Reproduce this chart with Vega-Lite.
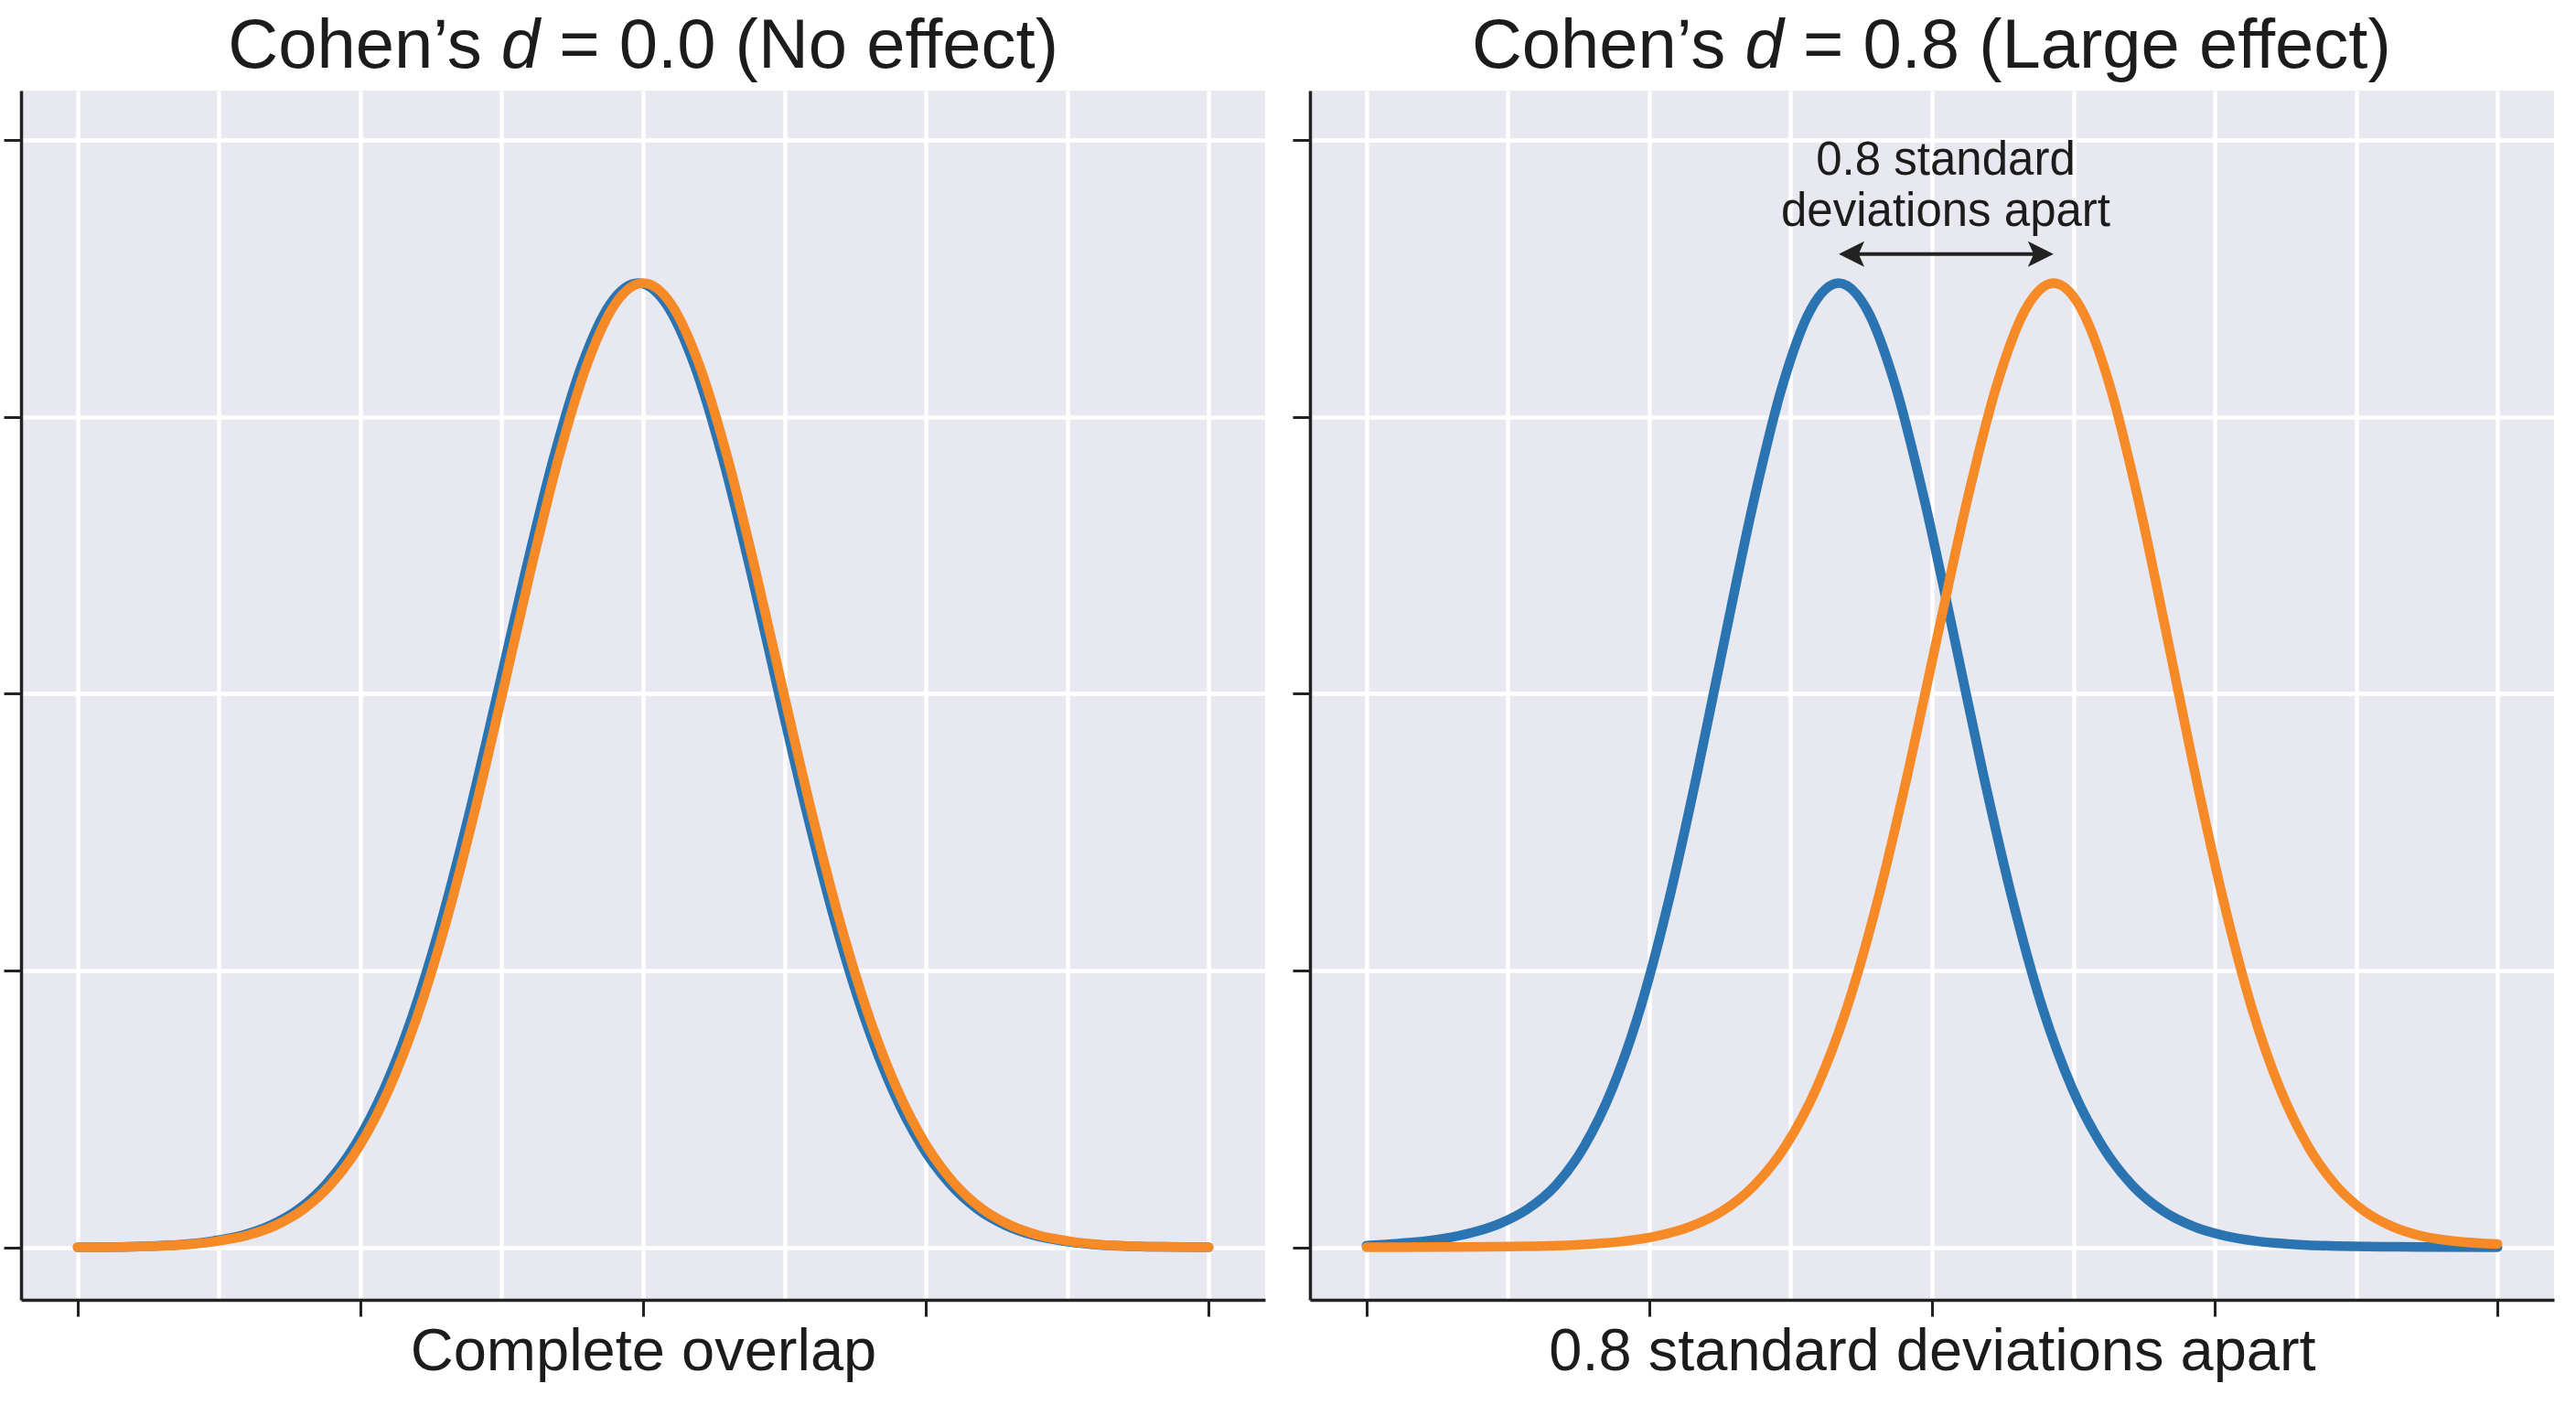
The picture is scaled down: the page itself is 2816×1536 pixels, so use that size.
{
  "$schema": "https://vega.github.io/schema/vega-lite/v6.json",
  "background": "white",
  "padding": {"left": 2, "top": 12, "right": 5, "bottom": 5},
  "config": {
    "view": {"fill": "#e8e8f0", "stroke": null},
    "font": "Liberation Sans",
    "axis": {
      "labels": false, "grid": true, "gridColor": "#ffffff", "gridWidth": 4.5,
      "domainColor": "#222222", "domainWidth": 3.5, "tickColor": "#222222", "tickWidth": 3,
      "titleFont": "Liberation Sans", "titleFontWeight": "normal", "titleColor": "#1c1c1c"
    }
  },
  "datasets": {
    "curves": [
      {"p":"L","s":"A","x":-4,"y":0},{"p":"L","s":"A","x":-3.635,"y":0.0002},{"p":"L","s":"A","x":-3.435,"y":0.0005},{"p":"L","s":"A","x":-3.235,"y":0.0011},{"p":"L","s":"A","x":-3.035,"y":0.0023},{"p":"L","s":"A","x":-2.835,"y":0.0043},{"p":"L","s":"A","x":-2.635,"y":0.0079},{"p":"L","s":"A","x":-2.435,"y":0.0138},{"p":"L","s":"A","x":-2.235,"y":0.0232},{"p":"L","s":"A","x":-2.035,"y":0.0371},{"p":"L","s":"A","x":-1.835,"y":0.0568},{"p":"L","s":"A","x":-1.635,"y":0.0831},{"p":"L","s":"A","x":-1.435,"y":0.1163},{"p":"L","s":"A","x":-1.235,"y":0.1556},{"p":"L","s":"A","x":-1.035,"y":0.199},{"p":"L","s":"A","x":-0.835,"y":0.2435},{"p":"L","s":"A","x":-0.635,"y":0.2848},{"p":"L","s":"A","x":-0.435,"y":0.3185},{"p":"L","s":"A","x":-0.235,"y":0.3407},{"p":"L","s":"A","x":-0.035,"y":0.3484},{"p":"L","s":"A","x":0.165,"y":0.3407},{"p":"L","s":"A","x":0.365,"y":0.3185},{"p":"L","s":"A","x":0.565,"y":0.2848},{"p":"L","s":"A","x":0.765,"y":0.2435},{"p":"L","s":"A","x":0.965,"y":0.199},{"p":"L","s":"A","x":1.165,"y":0.1556},{"p":"L","s":"A","x":1.365,"y":0.1163},{"p":"L","s":"A","x":1.565,"y":0.0831},{"p":"L","s":"A","x":1.765,"y":0.0568},{"p":"L","s":"A","x":1.965,"y":0.0371},{"p":"L","s":"A","x":2.165,"y":0.0232},{"p":"L","s":"A","x":2.365,"y":0.0138},{"p":"L","s":"A","x":2.565,"y":0.0079},{"p":"L","s":"A","x":2.765,"y":0.0043},{"p":"L","s":"A","x":2.965,"y":0.0023},{"p":"L","s":"A","x":3.165,"y":0.0011},{"p":"L","s":"A","x":3.365,"y":0.0005},{"p":"L","s":"A","x":3.565,"y":0.0002},{"p":"L","s":"A","x":4,"y":0},
      {"p":"L","s":"B","x":-4,"y":0},{"p":"L","s":"B","x":-3.6,"y":0.0002},{"p":"L","s":"B","x":-3.4,"y":0.0005},{"p":"L","s":"B","x":-3.2,"y":0.0011},{"p":"L","s":"B","x":-3,"y":0.0023},{"p":"L","s":"B","x":-2.8,"y":0.0043},{"p":"L","s":"B","x":-2.6,"y":0.0079},{"p":"L","s":"B","x":-2.4,"y":0.0138},{"p":"L","s":"B","x":-2.2,"y":0.0232},{"p":"L","s":"B","x":-2,"y":0.0371},{"p":"L","s":"B","x":-1.8,"y":0.0568},{"p":"L","s":"B","x":-1.6,"y":0.0831},{"p":"L","s":"B","x":-1.4,"y":0.1163},{"p":"L","s":"B","x":-1.2,"y":0.1556},{"p":"L","s":"B","x":-1,"y":0.199},{"p":"L","s":"B","x":-0.8,"y":0.2435},{"p":"L","s":"B","x":-0.6,"y":0.2848},{"p":"L","s":"B","x":-0.4,"y":0.3185},{"p":"L","s":"B","x":-0.2,"y":0.3407},{"p":"L","s":"B","x":0,"y":0.3484},{"p":"L","s":"B","x":0.2,"y":0.3407},{"p":"L","s":"B","x":0.4,"y":0.3185},{"p":"L","s":"B","x":0.6,"y":0.2848},{"p":"L","s":"B","x":0.8,"y":0.2435},{"p":"L","s":"B","x":1,"y":0.199},{"p":"L","s":"B","x":1.2,"y":0.1556},{"p":"L","s":"B","x":1.4,"y":0.1163},{"p":"L","s":"B","x":1.6,"y":0.0831},{"p":"L","s":"B","x":1.8,"y":0.0568},{"p":"L","s":"B","x":2,"y":0.0371},{"p":"L","s":"B","x":2.2,"y":0.0232},{"p":"L","s":"B","x":2.4,"y":0.0138},{"p":"L","s":"B","x":2.6,"y":0.0079},{"p":"L","s":"B","x":2.8,"y":0.0043},{"p":"L","s":"B","x":3,"y":0.0023},{"p":"L","s":"B","x":3.2,"y":0.0011},{"p":"L","s":"B","x":3.4,"y":0.0005},{"p":"L","s":"B","x":3.6,"y":0.0002},{"p":"L","s":"B","x":4,"y":0},
      {"p":"R","s":"A","x":-4,"y":0.0006},{"p":"R","s":"A","x":-3.86,"y":0.001},{"p":"R","s":"A","x":-3.66,"y":0.0018},{"p":"R","s":"A","x":-3.46,"y":0.0031},{"p":"R","s":"A","x":-3.26,"y":0.0052},{"p":"R","s":"A","x":-3.06,"y":0.0085},{"p":"R","s":"A","x":-2.86,"y":0.0138},{"p":"R","s":"A","x":-2.66,"y":0.0224},{"p":"R","s":"A","x":-2.46,"y":0.0365},{"p":"R","s":"A","x":-2.26,"y":0.0575},{"p":"R","s":"A","x":-2.06,"y":0.0869},{"p":"R","s":"A","x":-1.86,"y":0.1256},{"p":"R","s":"A","x":-1.66,"y":0.1715},{"p":"R","s":"A","x":-1.46,"y":0.2214},{"p":"R","s":"A","x":-1.26,"y":0.2699},{"p":"R","s":"A","x":-1.06,"y":0.311},{"p":"R","s":"A","x":-0.86,"y":0.3387},{"p":"R","s":"A","x":-0.66,"y":0.3484},{"p":"R","s":"A","x":-0.459,"y":0.3387},{"p":"R","s":"A","x":-0.257,"y":0.311},{"p":"R","s":"A","x":-0.053,"y":0.2699},{"p":"R","s":"A","x":0.153,"y":0.2214},{"p":"R","s":"A","x":0.36,"y":0.1715},{"p":"R","s":"A","x":0.569,"y":0.1256},{"p":"R","s":"A","x":0.779,"y":0.0869},{"p":"R","s":"A","x":0.991,"y":0.0575},{"p":"R","s":"A","x":1.205,"y":0.0365},{"p":"R","s":"A","x":1.42,"y":0.0222},{"p":"R","s":"A","x":1.637,"y":0.013},{"p":"R","s":"A","x":1.855,"y":0.0074},{"p":"R","s":"A","x":2.075,"y":0.0041},{"p":"R","s":"A","x":2.297,"y":0.0022},{"p":"R","s":"A","x":2.52,"y":0.0012},{"p":"R","s":"A","x":2.745,"y":0.0006},{"p":"R","s":"A","x":2.971,"y":0.0003},{"p":"R","s":"A","x":3.199,"y":0.0002},{"p":"R","s":"A","x":3.429,"y":0.0001},{"p":"R","s":"A","x":4,"y":0},
      {"p":"R","s":"B","x":-4,"y":0},{"p":"R","s":"B","x":-3.373,"y":0.0001},{"p":"R","s":"B","x":-3.129,"y":0.0002},{"p":"R","s":"B","x":-2.887,"y":0.0003},{"p":"R","s":"B","x":-2.647,"y":0.0006},{"p":"R","s":"B","x":-2.41,"y":0.0012},{"p":"R","s":"B","x":-2.175,"y":0.0022},{"p":"R","s":"B","x":-1.943,"y":0.0041},{"p":"R","s":"B","x":-1.713,"y":0.0074},{"p":"R","s":"B","x":-1.485,"y":0.013},{"p":"R","s":"B","x":-1.26,"y":0.0222},{"p":"R","s":"B","x":-1.037,"y":0.0365},{"p":"R","s":"B","x":-0.817,"y":0.0575},{"p":"R","s":"B","x":-0.599,"y":0.0869},{"p":"R","s":"B","x":-0.383,"y":0.1256},{"p":"R","s":"B","x":-0.17,"y":0.1715},{"p":"R","s":"B","x":0.041,"y":0.2214},{"p":"R","s":"B","x":0.249,"y":0.2699},{"p":"R","s":"B","x":0.455,"y":0.311},{"p":"R","s":"B","x":0.659,"y":0.3387},{"p":"R","s":"B","x":0.86,"y":0.3484},{"p":"R","s":"B","x":1.06,"y":0.3387},{"p":"R","s":"B","x":1.26,"y":0.311},{"p":"R","s":"B","x":1.46,"y":0.2699},{"p":"R","s":"B","x":1.66,"y":0.2214},{"p":"R","s":"B","x":1.86,"y":0.1715},{"p":"R","s":"B","x":2.06,"y":0.1256},{"p":"R","s":"B","x":2.26,"y":0.0869},{"p":"R","s":"B","x":2.46,"y":0.0575},{"p":"R","s":"B","x":2.66,"y":0.0365},{"p":"R","s":"B","x":2.86,"y":0.0222},{"p":"R","s":"B","x":3.06,"y":0.013},{"p":"R","s":"B","x":3.26,"y":0.0074},{"p":"R","s":"B","x":3.46,"y":0.0041},{"p":"R","s":"B","x":3.66,"y":0.0024},{"p":"R","s":"B","x":3.86,"y":0.0015},{"p":"R","s":"B","x":4,"y":0.0012}
    ],
    "titles": [
      {"p":"L","part":"pre","x":-1.14,"y":0.4263,"t":"Cohen’s"},
      {"p":"L","part":"d","x":-0.867,"y":0.4263,"t":"d"},
      {"p":"L","part":"post","x":-0.593,"y":0.4263,"t":"= 0.0 (No effect)"},
      {"p":"R","part":"pre","x":-1.46,"y":0.4263,"t":"Cohen’s"},
      {"p":"R","part":"d","x":-1.187,"y":0.4263,"t":"d"},
      {"p":"R","part":"post","x":-0.913,"y":0.4263,"t":"= 0.8 (Large effect)"}
    ],
    "notes": [{"x":0.097,"y":0.3876,"t":"0.8 standard\ndeviations apart"}],
    "arrow": [{"x":-0.6,"x2":0.8,"y":0.3589}],
    "heads": [{"x":-0.569,"y":0.3589,"dir":"left"},{"x":0.769,"y":0.3589,"dir":"right"}]
  },
  "spacing": 28,
  "hconcat": [
    {
      "width": 1360, "height": 1322,
      "encoding": {
        "x": {"field": "x", "type": "quantitative", "scale": {"domain": [-4.4, 4.4], "nice": false, "zero": false},
              "axis": {"values": [-4,-3,-2,-1,0,1,2,3,4], "tickSize": 18,
                       "tickOpacity": {"condition": {"test": "abs(datum.value) % 2 === 1", "value": 0}, "value": 1},
                       "title": "Complete overlap", "titleFontSize": 65, "titleBaseline": "alphabetic", "titlePadding": 57}},
        "y": {"field": "y", "type": "quantitative", "scale": {"domain": [-0.019, 0.418], "nice": false, "zero": false},
              "axis": {"values": [0, 0.1, 0.2, 0.3, 0.4], "tickSize": 19, "title": null}}
      },
      "layer": [
        {"data": {"name": "curves"}, "transform": [{"filter": "datum.p === 'L' && datum.s === 'A'"}],
         "mark": {"type": "line", "color": "#2b74b2", "strokeWidth": 10.5, "interpolate": "monotone", "strokeCap": "round"}},
        {"data": {"name": "curves"}, "transform": [{"filter": "datum.p === 'L' && datum.s === 'B'"}],
         "mark": {"type": "line", "color": "#f58a27", "strokeWidth": 10.5, "interpolate": "monotone", "strokeCap": "round"}},
        {"data": {"name": "titles"}, "transform": [{"filter": "datum.p === 'L' && datum.part === 'pre'"}],
         "mark": {"type": "text", "align": "right", "baseline": "alphabetic", "fontSize": 76, "color": "#1c1c1c"},
         "encoding": {"text": {"field": "t"}}},
        {"data": {"name": "titles"}, "transform": [{"filter": "datum.p === 'L' && datum.part === 'd'"}],
         "mark": {"type": "text", "align": "center", "baseline": "alphabetic", "fontSize": 76, "fontStyle": "italic", "color": "#1c1c1c"},
         "encoding": {"text": {"field": "t"}}},
        {"data": {"name": "titles"}, "transform": [{"filter": "datum.p === 'L' && datum.part === 'post'"}],
         "mark": {"type": "text", "align": "left", "baseline": "alphabetic", "fontSize": 76, "color": "#1c1c1c"},
         "encoding": {"text": {"field": "t"}}}
      ]
    },
    {
      "width": 1360, "height": 1322,
      "encoding": {
        "x": {"field": "x", "type": "quantitative", "scale": {"domain": [-4.4, 4.4], "nice": false, "zero": false},
              "axis": {"values": [-4,-3,-2,-1,0,1,2,3,4], "tickSize": 18,
                       "tickOpacity": {"condition": {"test": "abs(datum.value) % 2 === 1", "value": 0}, "value": 1},
                       "title": "0.8 standard deviations apart", "titleFontSize": 65, "titleBaseline": "alphabetic", "titlePadding": 57}},
        "y": {"field": "y", "type": "quantitative", "scale": {"domain": [-0.019, 0.418], "nice": false, "zero": false},
              "axis": {"values": [0, 0.1, 0.2, 0.3, 0.4], "tickSize": 19, "title": null}}
      },
      "layer": [
        {"data": {"name": "curves"}, "transform": [{"filter": "datum.p === 'R' && datum.s === 'A'"}],
         "mark": {"type": "line", "color": "#2b74b2", "strokeWidth": 10.5, "interpolate": "monotone", "strokeCap": "round"}},
        {"data": {"name": "curves"}, "transform": [{"filter": "datum.p === 'R' && datum.s === 'B'"}],
         "mark": {"type": "line", "color": "#f58a27", "strokeWidth": 10.5, "interpolate": "monotone", "strokeCap": "round"}},
        {"data": {"name": "arrow"},
         "mark": {"type": "rule", "color": "#222222", "strokeWidth": 4},
         "encoding": {"x2": {"field": "x2"}}},
        {"data": {"name": "heads"}, "transform": [{"filter": "datum.dir === 'left'"}],
         "mark": {"type": "point", "shape": "M-1,0L1,-1L0.55,0L1,1Z", "filled": true, "color": "#222222", "size": 784, "opacity": 1, "strokeWidth": 0}},
        {"data": {"name": "heads"}, "transform": [{"filter": "datum.dir === 'right'"}],
         "mark": {"type": "point", "shape": "M1,0L-1,-1L-0.55,0L-1,1Z", "filled": true, "color": "#222222", "size": 784, "opacity": 1, "strokeWidth": 0}},
        {"data": {"name": "notes"},
         "mark": {"type": "text", "align": "center", "baseline": "alphabetic", "fontSize": 51, "lineHeight": 56, "lineBreak": "\n", "color": "#1c1c1c"},
         "encoding": {"text": {"field": "t"}}},
        {"data": {"name": "titles"}, "transform": [{"filter": "datum.p === 'R' && datum.part === 'pre'"}],
         "mark": {"type": "text", "align": "right", "baseline": "alphabetic", "fontSize": 76, "color": "#1c1c1c"},
         "encoding": {"text": {"field": "t"}}},
        {"data": {"name": "titles"}, "transform": [{"filter": "datum.p === 'R' && datum.part === 'd'"}],
         "mark": {"type": "text", "align": "center", "baseline": "alphabetic", "fontSize": 76, "fontStyle": "italic", "color": "#1c1c1c"},
         "encoding": {"text": {"field": "t"}}},
        {"data": {"name": "titles"}, "transform": [{"filter": "datum.p === 'R' && datum.part === 'post'"}],
         "mark": {"type": "text", "align": "left", "baseline": "alphabetic", "fontSize": 76, "color": "#1c1c1c"},
         "encoding": {"text": {"field": "t"}}}
      ]
    }
  ]
}
